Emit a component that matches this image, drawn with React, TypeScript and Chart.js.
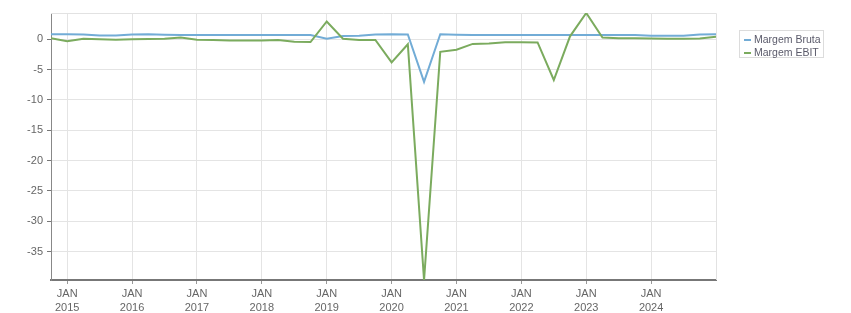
import React, { useEffect, useRef } from "react";
import { Chart, registerables } from "chart.js";

Chart.register(...registerables);

// Quarterly observation dates (YYYY-MM)
const quarters = [
  "2014-10",
  "2015-01", "2015-04", "2015-07", "2015-10",
  "2016-01", "2016-04", "2016-07", "2016-10",
  "2017-01", "2017-04", "2017-07", "2017-10",
  "2018-01", "2018-04", "2018-07", "2018-10",
  "2019-01", "2019-04", "2019-07", "2019-10",
  "2020-01", "2020-04", "2020-07", "2020-10",
  "2021-01", "2021-04", "2021-07", "2021-10",
  "2022-01", "2022-04", "2022-07", "2022-10",
  "2023-01", "2023-04", "2023-07", "2023-10",
  "2024-01", "2024-04", "2024-07", "2024-10",
  "2025-01",
];

const margemBruta = [
  0.85,
  0.85, 0.8, 0.65, 0.65,
  0.8, 0.85, 0.75, 0.7,
  0.7, 0.7, 0.7, 0.7,
  0.7, 0.7, 0.7, 0.7,
  0.1, 0.55, 0.6, 0.8,
  0.85, 0.8, -7.0, 0.85,
  0.75, 0.7, 0.7, 0.7,
  0.7, 0.7, 0.7, 0.7,
  0.7, 0.7, 0.7, 0.7,
  0.6, 0.6, 0.6, 0.8,
  0.85,
];

const margemEbit = [
  0.2,
  -0.3, 0.1, 0.0, -0.05,
  0.0, 0.05, 0.1, 0.3,
  -0.05, -0.1, -0.2, -0.2,
  -0.2, -0.1, -0.4, -0.45,
  2.95, 0.1, -0.1, -0.1,
  -3.8, -0.8, -39.7, -2.05,
  -1.7, -0.75, -0.7, -0.47,
  -0.47, -0.5, -6.7, 0.5,
  4.35, 0.3, 0.2, 0.2,
  0.15, 0.1, 0.1, 0.15,
  0.45,
];

const seriesLabels = ["Margem Bruta", "Margem EBIT"];
const seriesColors = ["#72acd6", "#7bab5e"];

const xTickYears = [2015, 2016, 2017, 2018, 2019, 2020, 2021, 2022, 2023, 2024];
const xTickMonth = "JAN";
const yTicks = [-35, -30, -25, -20, -15, -10, -5, 0];

const xStart = "2014-10";
const xEnd = "2025-01";

const toYear = (s: string) => {
  const [y, m] = s.split("-").map(Number);
  return y + (m - 1) / 12;
};

const FONT = "'Liberation Sans', Arial, sans-serif";

const framePlugin = {
  id: "frame",
  beforeDatasetsDraw(chart: any) {
    const { ctx, chartArea } = chart;
    ctx.save();
    ctx.strokeStyle = "#e2e2e2";
    ctx.lineWidth = 1;
    ctx.beginPath();
    ctx.moveTo(chartArea.left, chartArea.top + 0.5);
    ctx.lineTo(chartArea.right + 0.5, chartArea.top + 0.5);
    ctx.lineTo(chartArea.right + 0.5, chartArea.bottom);
    ctx.stroke();
    ctx.restore();
  },
};

const legendPlugin = {
  id: "boxLegend",
  afterDraw(chart: any) {
    const { ctx } = chart;
    const bx = 739.5, by = 30.5, bw = 84, bh = 27;
    ctx.save();
    ctx.strokeStyle = "#dcdcdc";
    ctx.lineWidth = 1;
    ctx.strokeRect(bx, by, bw, bh);
    ctx.font = `10.5px ${FONT}`;
    ctx.textBaseline = "middle";
    chart.data.datasets.forEach((ds: any, i: number) => {
      const y = 40 + i * 13;
      ctx.strokeStyle = ds.borderColor;
      ctx.lineWidth = 2;
      ctx.beginPath();
      ctx.moveTo(744, y);
      ctx.lineTo(751, y);
      ctx.stroke();
      ctx.fillStyle = "#5a5a6a";
      ctx.fillText(ds.label, 754, y);
    });
    ctx.restore();
  },
};

export default function App() {
  const ref = useRef<HTMLCanvasElement | null>(null);

  useEffect(() => {
    if (!ref.current) return;
    const xs = quarters.map(toYear);
    const all = [...margemBruta, ...margemEbit];
    const chart = new Chart(ref.current, {
      type: "line",
      data: {
        datasets: [
          {
            label: seriesLabels[0],
            data: margemBruta.map((v, i) => ({ x: xs[i], y: v })),
            borderColor: seriesColors[0],
            backgroundColor: seriesColors[0],
            borderWidth: 2,
            pointRadius: 0,
            tension: 0,
            order: 1,
          },
          {
            label: seriesLabels[1],
            data: margemEbit.map((v, i) => ({ x: xs[i], y: v })),
            borderColor: seriesColors[1],
            backgroundColor: seriesColors[1],
            borderWidth: 2,
            pointRadius: 0,
            tension: 0,
            order: 0,
          },
        ],
      },
      options: {
        animation: false,
        responsive: false,
        maintainAspectRatio: false,
        layout: { padding: { left: 0, top: 13, right: 135, bottom: 0 } },
        plugins: {
          legend: { display: false },
          tooltip: { enabled: false },
        },
        scales: {
          x: {
            type: "linear",
            min: toYear(xStart),
            max: toYear(xEnd),
            afterBuildTicks: (scale: any) => {
              scale.ticks = xTickYears.map((v) => ({ value: v }));
            },
            afterFit: (scale: any) => {
              scale.height = 33;
            },
            border: { color: "#777", width: 2 },
            grid: {
              color: "#e4e4e4",
              tickColor: "#999",
              tickLength: 4,
            },
            ticks: {
              autoSkip: false,
              maxRotation: 0,
              padding: 3,
              color: "#666",
              font: { family: FONT, size: 11, lineHeight: 1.27 },
              callback: (v: any) => [xTickMonth, String(v)],
            },
          },
          y: {
            type: "linear",
            min: Math.min(...all),
            max: Math.max(...all),
            afterBuildTicks: (scale: any) => {
              scale.ticks = yTicks.map((v) => ({ value: v }));
            },
            afterFit: (scale: any) => {
              scale.width = 51;
            },
            border: { color: "#888", width: 1 },
            grid: {
              color: "#e4e4e4",
              tickColor: "#777",
              tickLength: 4,
            },
            ticks: {
              padding: 4,
              color: "#666",
              font: { family: FONT, size: 11 },
            },
          },
        },
      },
      plugins: [framePlugin, legendPlugin],
    });
    return () => chart.destroy();
  }, []);

  return (
    <div style={{ position: "absolute", left: 0, top: 0, width: 851, height: 313, background: "#fff" }}>
      <canvas ref={ref} width={851} height={313} style={{ display: "block", width: 851, height: 313 }} />
    </div>
  );
}
